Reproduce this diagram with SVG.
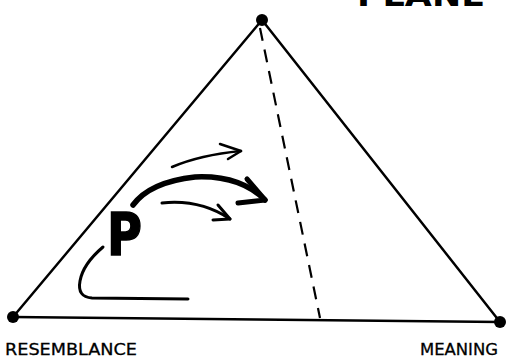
<svg xmlns="http://www.w3.org/2000/svg" width="506" height="361" viewBox="0 0 506 361">
<style>
.edge{stroke:#000;stroke-width:2.5;fill:none;stroke-linecap:round}
.dash{stroke:#000;stroke-width:2.2;fill:none;stroke-dasharray:13 9}
.arr{stroke:#000;fill:none;stroke-linecap:round;stroke-linejoin:round}
.lbl{font-family:"DejaVu Sans",sans-serif;font-size:16px;fill:#000;stroke:#000;stroke-width:0.3}
.dot{fill:#000}
</style>
<rect width="506" height="361" fill="#fff"/>
<g id="connectors">
<path class="edge" d="M13,317 L262,20"/>
<path class="edge" d="M262,20 L500,322"/>
<path class="edge" d="M13,317 L500,322"/>
<path class="dash" d="M260,28 L320,318"/>
<path class="arr" stroke-width="2.5" d="M172,167 Q200,155 241,151"/>
<path class="arr" stroke-width="2.5" d="M220,144 L241,151 L228,159"/>
<path class="arr" stroke-width="5.5" d="M133,205 Q150,182 195,177 Q240,175 265,200"/>
<path class="arr" stroke-width="5" d="M247,179 L265,200 L238,203"/>
<path class="arr" stroke-width="3" d="M162,203 Q200,199 230,219"/>
<path class="arr" stroke-width="3" d="M218,205 L230,219 L213,220"/>
<path class="arr" stroke-width="3" d="M103,247 Q83,264 80,281 Q77,297 92,298 L188,299"/>
</g>
<g id="node-top">
<circle class="dot" cx="262" cy="20" r="6"/>
<text x="357" y="6" font-family="DejaVu Sans, sans-serif" font-weight="bold" font-size="30" textLength="128" lengthAdjust="spacingAndGlyphs">PLANE</text>
</g>
<g id="node-resemblance">
<circle class="dot" cx="13" cy="317" r="6"/>
<text class="lbl" x="5" y="355" textLength="132" lengthAdjust="spacingAndGlyphs">RESEMBLANCE</text>
</g>
<g id="node-meaning">
<circle class="dot" cx="500" cy="322" r="6"/>
<text class="lbl" x="420" y="355" textLength="78" lengthAdjust="spacingAndGlyphs">MEANING</text>
</g>
<g id="node-p">
<text x="107" y="255" font-family="DejaVu Sans, sans-serif" font-weight="bold" font-size="58" stroke="#000" stroke-width="1.5" textLength="35" lengthAdjust="spacingAndGlyphs">P</text>
</g>
</svg>
